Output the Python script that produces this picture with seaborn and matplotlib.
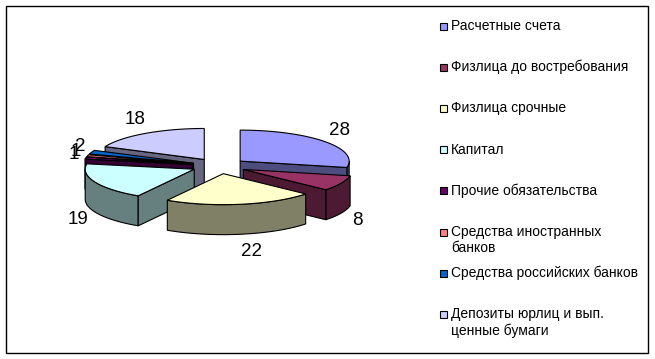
import numpy as np
import matplotlib
matplotlib.use("Agg")
import matplotlib.pyplot as plt
from matplotlib.patches import Polygon, Rectangle
import seaborn as sns

# ---- data ----
categories = [
    "Расчетные счета",
    "Физлица до востребования",
    "Физлица срочные",
    "Капитал",
    "Прочие обязательства",
    "Средства иностранных\nбанков",
    "Средства российских банков",
    "Депозиты юрлиц и вып.\nценные бумаги",
]
values = [28, 8, 22, 19, 1, 1, 2, 18]
colors_hex = ["#9999FF", "#993366", "#FFFFCC", "#CCFFFF",
              "#660066", "#FF8080", "#0066CC", "#CCCCFF"]

sns.set_theme(style="white")
plt.rcParams['font.family'] = ['Liberation Sans', 'DejaVu Sans']
palette = sns.color_palette(colors_hex)

# ---- layout (pixels) ----
W, H = 655, 359
CX, CY = 219.0, 166.0
RX, RY = 109.0, 31.0
DEPTH = 30.0
EXPLODE = 0.25

fig = plt.figure(figsize=(W / 100, H / 100), dpi=100)
ax = fig.add_axes([0, 0, 1, 1])
ax.set_xlim(0, W)
ax.set_ylim(H, 0)
ax.axis("off")

total = float(sum(values))
fracs = np.array(values) / total
ends = np.cumsum(fracs) * 360.0
starts = ends - fracs * 360.0


def pt(apex, t):
    r = np.radians(t)
    return np.array([apex[0] + RX * np.sin(r), apex[1] - RY * np.cos(r)])


def darker(c, f=0.5):
    return tuple(np.array(c) * f)


slices = []
for i, v in enumerate(values):
    t0, t1 = starts[i], ends[i]
    tm = np.radians((t0 + t1) / 2)
    apex = np.array([CX + EXPLODE * RX * np.sin(tm), CY - EXPLODE * RY * np.cos(tm)])
    slices.append((i, t0, t1, tm, apex))

# back-to-front drawing order
order = sorted(slices, key=lambda s: -np.cos(s[3]))
z = 2
lw = 0.8
for (i, t0, t1, tm, apex) in order:
    col = palette[i]
    side = darker(col)
    down = np.array([0, DEPTH])
    # outer wall (front-facing part)
    a, b = max(t0, 90.0), min(t1, 270.0)
    if b > a:
        ts = np.linspace(a, b, 60)
        top = [pt(apex, t) for t in ts]
        bot = [p + down for p in top[::-1]]
        ax.add_patch(Polygon(np.array(top + bot), closed=True, fc=side,
                             ec="black", lw=lw, zorder=z))
    # radial faces
    for t, vis in ((t0, np.sin(np.radians(t0)) < -1e-9),
                   (t1, np.sin(np.radians(t1)) > 1e-9)):
        if vis:
            p = pt(apex, t)
            poly = np.array([apex, p, p + down, apex + down])
            ax.add_patch(Polygon(poly, closed=True, fc=side, ec="black",
                                 lw=lw, zorder=z))
    # top face
    ts = np.linspace(t0, t1, max(4, int((t1 - t0) * 2)))
    poly = np.array([apex] + [pt(apex, t) for t in ts])
    ax.add_patch(Polygon(poly, closed=True, fc=col, ec="black", lw=lw,
                         zorder=z + 0.5))
    z += 1

# value labels
for (i, t0, t1, tm, apex) in slices:
    s, c = np.sin(tm), np.cos(tm)
    lx = CX + 1.42 * RX * s + (8 if abs(s) < 0.3 else 0)
    ly = CY - 1.8 * RY * c + (DEPTH if c < 0 else 0)
    if values[i] <= 2:
        lx += 6
    ax.text(lx, ly, f"{values[i]}", fontsize=13.5, ha="center", va="center",
            color="black", zorder=50)

# legend (manual, evenly spaced like the original)
LX, LY0, LDY, MS = 440.0, 26.0, 41.2, 7.0
for i, lab in enumerate(categories):
    y = LY0 + i * LDY
    ax.add_patch(Rectangle((LX, y - MS / 2), MS, MS, fc=palette[i],
                           ec="black", lw=0.8, zorder=50))
    for k, line in enumerate(lab.split("\n")):
        ax.text(LX + MS + 4, y + k * 16.5, line, fontsize=10, ha="left",
                va="center", color="black", zorder=50)

# outer frame
ax.add_patch(Rectangle((6, 6), 642, 347, fill=False, ec="black", lw=1.0,
                       zorder=60))

fig.savefig("out.png", dpi=100)
